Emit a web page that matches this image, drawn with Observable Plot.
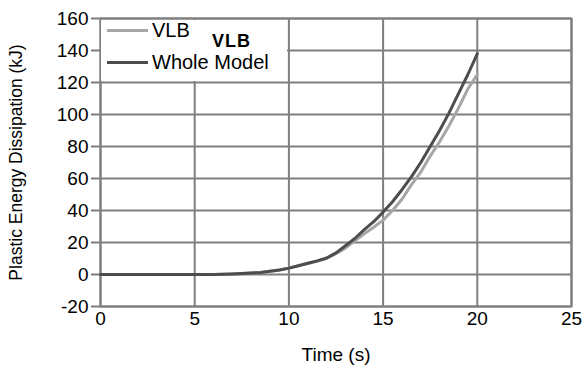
<!DOCTYPE html>
<html>
<head>
<meta charset="utf-8">
<script src="https://cdn.jsdelivr.net/npm/d3@7"></script>
<script src="https://cdn.jsdelivr.net/npm/@observablehq/plot@0.6"></script>
<style>
  html, body { margin: 0; padding: 0; background: #fff; }
  #wrap { position: relative; width: 582px; height: 371px; font-family: "Liberation Sans", Arial, sans-serif; }
  #legend { position: absolute; left: 101px; top: 20px; width: 186px; height: 61px; background: #fff; }
  #legend .row { position: absolute; left: 6px; display: flex; align-items: center; font-size: 20px; color: #000; line-height: 22px; }
  #legend .sw { width: 41px; height: 3px; margin-right: 4px; }
  #legend .ttl { position: absolute; left: 111px; top: 11px; font-weight: bold; font-size: 18px; letter-spacing: 1px; }
</style>
</head>
<body>
<div id="wrap">
  <div id="chart"></div>
  <div id="legend"></div>
</div>
<script>
const time = [0,0.5,1,1.5,2,2.5,3,3.5,4,4.5,5,5.5,6,6.5,7,7.5,8,8.5,9,9.5,10,10.5,11,11.5,12,12.5,13,13.5,14,14.5,15,15.5,16,16.5,17,17.5,18,18.5,19,19.5,20];
const wholeModel = [0,0,0,0,0,0,0,0,0,0,0,0,0,0.1,0.3,0.6,0.9,1.3,2,2.8,4,5.5,7,8.5,10.3,13.5,18,22.5,28,33,39,45.5,53,61,70,80,90,101,113,125,138];
const vlb = [0,0,0,0,0,0,0,0,0,0,0,0,0,0.1,0.3,0.6,0.9,1.3,2,2.8,4,5.4,6.8,8.3,10,13,16.5,21,25.5,29.5,34,40,47,56,64,74,83,93,104,116,125];
const seriesNames = ["VLB", "Whole Model"];
const seriesColors = ["#a6a6a6", "#4d4d4d"];
const xTicks = [0,5,10,15,20,25];
const yTicks = [-20,0,20,40,60,80,100,120,140,160];

const rows = [];
time.forEach((t, i) => {
  rows.push({t, v: vlb[i], s: seriesNames[0]});
});
time.forEach((t, i) => {
  rows.push({t, v: wholeModel[i], s: seriesNames[1]});
});

const grid = "#7f7f7f";
const chart = Plot.plot({
  width: 582,
  height: 371,
  marginLeft: 100,
  marginRight: 11,
  marginTop: 18,
  marginBottom: 65,
  style: {fontFamily: "'Liberation Sans', Arial, sans-serif", fontSize: "19px", color: "#000", background: "#fff"},
  x: {domain: [0, 25], ticks: xTicks},
  y: {domain: [-20, 160], ticks: yTicks},
  color: {domain: seriesNames, range: seriesColors},
  marks: [
    Plot.gridX(xTicks, {stroke: grid, strokeOpacity: 1, strokeWidth: 2}),
    Plot.gridY(yTicks, {stroke: grid, strokeOpacity: 1, strokeWidth: 2}),
    Plot.frame({stroke: grid, strokeWidth: 2}),
    Plot.axisX(xTicks, {tickSize: 0, tickPadding: 5, fill: "#000", tickFormat: d => String(d), label: "Time (s)", labelAnchor: "center", labelArrow: "none", labelOffset: 54}),
    Plot.axisY(yTicks, {tickSize: 9, tickPadding: 3, stroke: grid, strokeWidth: 2, fill: "#000", tickFormat: d => String(d), label: "Plastic Energy Dissipation (kJ)", labelAnchor: "center", labelArrow: "none", labelOffset: 91}),
    Plot.line(rows, {x: "t", y: "v", z: "s", stroke: "s", strokeWidth: 3, curve: "linear"})
  ]
});
d3.select(chart).selectAll('g[aria-label="y-axis label"] text').style("font-size", "17.5px");
document.getElementById("chart").appendChild(chart);

const leg = document.getElementById("legend");
seriesNames.forEach((name, i) => {
  const r = document.createElement("div");
  r.className = "row";
  r.style.top = (i === 0 ? -1 : 31) + "px";
  r.innerHTML = `<span class="sw" style="background:${seriesColors[i]}"></span><span>${name}</span>`;
  leg.appendChild(r);
});
const ttl = document.createElement("div");
ttl.className = "ttl";
ttl.textContent = "VLB";
leg.appendChild(ttl);
</script>
</body>
</html>
